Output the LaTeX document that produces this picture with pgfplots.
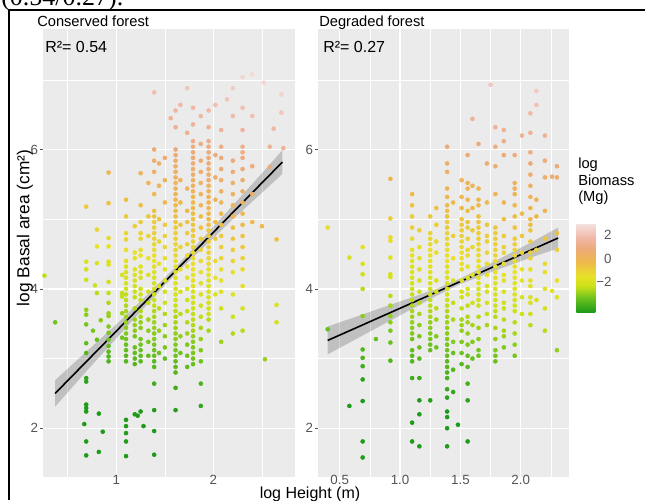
\documentclass[border=0pt]{standalone}
\usepackage{fontspec}
\setmainfont{Liberation Sans}
\newfontfamily\seriffont{Liberation Serif}
\usepackage{pgfplots}
\usepackage{pgfplotstable}
\pgfplotsset{compat=1.18}

\definecolor{panelgrey}{HTML}{EBEBEB}
\definecolor{axisgrey}{HTML}{555555}

% log height, log basal area, log biomass
\pgfplotstableread[row sep=\\]{
x y c\\
0.26 4.19 -2.4\\ 0.37 3.52 -3.3\\ 0.67 2.06 -5.2\\
0.69 5.18 -0.8\\ 0.69 4.39 -1.9\\ 0.69 4.28 -2.1\\ 0.69 4.13 -2.3\\ 0.69 3.70 -2.9\\ 0.69 3.63 -3.0\\
0.69 3.49 -3.2\\ 0.69 3.22 -3.5\\ 0.69 3.08 -3.7\\ 0.69 2.72 -4.2\\ 0.69 2.67 -4.3\\ 0.69 2.34 -4.8\\
0.69 2.29 -4.8\\ 0.69 2.24 -4.9\\ 0.69 1.81 -5.5\\ 0.69 1.61 -5.8\\
0.80 4.85 -1.2\\ 0.80 4.61 -1.5\\ 0.80 4.37 -1.9\\ 0.78 4.05 -2.3\\ 0.80 3.94 -2.5\\ 0.84 3.55 -3.0\\
0.76 3.40 -3.2\\ 0.80 3.27 -3.4\\ 0.82 2.21 -4.9\\ 0.86 1.95 -5.3\\ 0.82 1.66 -5.7\\
0.92 5.67 0.0\\ 0.92 5.23 -0.6\\ 0.92 4.73 -1.3\\ 0.92 4.61 -1.5\\ 0.92 4.39 -1.8\\ 0.92 4.35 -1.9\\
0.92 4.10 -2.2\\ 0.92 3.94 -2.4\\ 0.92 3.80 -2.6\\ 0.92 3.65 -2.8\\ 0.92 3.61 -2.9\\ 0.92 3.46 -3.1\\
0.92 3.37 -3.2\\ 0.92 3.27 -3.4\\ 0.92 3.18 -3.5\\ 0.92 3.10 -3.6\\ 0.92 3.03 -3.7\\ 0.92 2.96 -3.8\\
1.06 4.20 -2.0\\ 1.06 3.94 -2.4\\ 1.06 3.89 -2.4\\ 1.06 3.65 -2.8\\ 1.06 3.30 -3.3\\
1.10 5.28 -0.5\\ 1.10 5.04 -0.8\\ 1.10 4.80 -1.1\\ 1.10 4.71 -1.2\\ 1.10 4.56 -1.5\\ 1.10 4.40 -1.7\\
1.10 4.32 -1.8\\ 1.10 4.24 -1.9\\ 1.10 4.16 -2.0\\ 1.10 4.08 -2.1\\ 1.10 4.00 -2.2\\ 1.10 3.92 -2.4\\
1.10 3.84 -2.5\\ 1.10 3.76 -2.6\\ 1.10 3.68 -2.7\\ 1.10 3.60 -2.8\\ 1.10 3.52 -2.9\\ 1.10 3.44 -3.0\\
1.10 3.36 -3.1\\ 1.10 3.28 -3.3\\ 1.10 3.20 -3.4\\ 1.10 3.12 -3.5\\ 1.10 3.04 -3.6\\ 1.10 2.96 -3.7\\
1.10 2.12 -4.9\\ 1.10 2.03 -5.0\\ 1.10 1.93 -5.1\\ 1.10 1.81 -5.3\\ 1.10 1.60 -5.6\\
1.19 4.90 -0.9\\ 1.19 4.52 -1.5\\ 1.19 4.44 -1.6\\ 1.19 4.28 -1.8\\ 1.19 4.20 -1.9\\ 1.19 4.12 -2.0\\
1.19 4.04 -2.1\\ 1.19 3.96 -2.3\\ 1.19 3.88 -2.4\\ 1.19 3.72 -2.6\\ 1.19 3.56 -2.8\\ 1.19 3.48 -2.9\\
1.19 3.40 -3.0\\ 1.19 3.32 -3.2\\ 1.19 3.16 -3.4\\ 1.19 3.08 -3.5\\ 1.19 3.00 -3.6\\ 1.19 2.92 -3.7\\
1.19 2.20 -4.7\\ 1.22 2.18 -4.7\\ 1.28 2.03 -4.9\\
1.25 5.66 0.1\\ 1.25 5.20 -0.5\\ 1.25 4.96 -0.8\\ 1.25 4.80 -1.1\\ 1.25 4.72 -1.2\\ 1.25 4.56 -1.4\\
1.25 4.48 -1.5\\ 1.25 4.32 -1.7\\ 1.25 4.24 -1.8\\ 1.25 4.16 -2.0\\ 1.25 4.00 -2.2\\ 1.25 3.92 -2.3\\
1.25 3.84 -2.4\\ 1.25 3.68 -2.6\\ 1.25 3.60 -2.7\\ 1.25 3.52 -2.9\\ 1.25 3.44 -3.0\\ 1.25 3.28 -3.2\\
1.25 3.20 -3.3\\ 1.25 3.12 -3.4\\ 1.25 3.04 -3.5\\ 1.25 2.96 -3.6\\ 1.25 2.24 -4.6\\
1.33 5.52 0.0\\ 1.33 5.04 -0.7\\ 1.33 4.76 -1.1\\ 1.33 4.44 -1.5\\ 1.33 4.20 -1.9\\ 1.33 3.96 -2.2\\
1.33 3.80 -2.4\\ 1.33 3.56 -2.8\\ 1.33 3.40 -3.0\\ 1.33 3.24 -3.2\\ 1.33 3.04 -3.5\\
1.39 6.82 1.9\\ 1.39 6.00 0.7\\ 1.39 5.84 0.5\\ 1.39 5.68 0.3\\ 1.39 5.36 -0.2\\ 1.39 5.12 -0.5\\
1.39 5.04 -0.6\\ 1.39 4.96 -0.8\\ 1.39 4.88 -0.9\\ 1.39 4.80 -1.0\\ 1.39 4.72 -1.1\\ 1.39 4.64 -1.2\\
1.39 4.56 -1.3\\ 1.39 4.48 -1.4\\ 1.39 4.40 -1.5\\ 1.39 4.32 -1.7\\ 1.39 4.24 -1.8\\ 1.39 4.16 -1.9\\
1.39 4.08 -2.0\\ 1.39 4.00 -2.1\\ 1.39 3.92 -2.2\\ 1.39 3.84 -2.3\\ 1.39 3.76 -2.4\\ 1.39 3.68 -2.6\\
1.39 3.60 -2.7\\ 1.39 3.52 -2.8\\ 1.39 3.44 -2.9\\ 1.39 3.36 -3.0\\ 1.39 3.28 -3.1\\ 1.39 3.20 -3.2\\
1.39 3.12 -3.3\\ 1.39 3.04 -3.4\\ 1.39 2.96 -3.6\\ 1.39 2.88 -3.7\\ 1.39 2.64 -4.0\\ 1.39 2.26 -4.5\\
1.39 1.96 -5.0\\ 1.39 1.62 -5.4\\
1.44 5.80 0.4\\ 1.44 5.48 0.0\\ 1.44 5.00 -0.7\\ 1.44 4.68 -1.1\\ 1.44 4.36 -1.6\\ 1.44 4.04 -2.0\\
1.44 3.72 -2.5\\ 1.44 3.40 -2.9\\ 1.44 3.08 -3.4\\
1.50 5.88 0.6\\ 1.50 5.56 0.1\\ 1.50 5.24 -0.3\\ 1.50 4.92 -0.8\\ 1.50 4.76 -1.0\\ 1.50 4.60 -1.2\\
1.50 4.44 -1.4\\ 1.50 4.28 -1.7\\ 1.50 4.12 -1.9\\ 1.50 3.96 -2.1\\ 1.50 3.80 -2.3\\ 1.50 3.64 -2.6\\
1.50 3.48 -2.8\\ 1.50 3.32 -3.0\\ 1.50 3.16 -3.2\\ 1.50 3.00 -3.5\\
1.56 6.45 1.4\\
1.61 6.56 1.6\\ 1.61 6.32 1.3\\ 1.61 6.00 0.8\\ 1.61 5.92 0.7\\ 1.61 5.84 0.6\\ 1.61 5.76 0.5\\
1.61 5.68 0.4\\ 1.61 5.60 0.2\\ 1.61 5.52 0.1\\ 1.61 5.44 0.0\\ 1.61 5.36 -0.1\\ 1.61 5.28 -0.2\\
1.61 5.20 -0.3\\ 1.61 5.12 -0.4\\ 1.61 5.04 -0.5\\ 1.61 4.96 -0.7\\ 1.61 4.88 -0.8\\ 1.61 4.80 -0.9\\
1.61 4.72 -1.0\\ 1.61 4.64 -1.1\\ 1.61 4.56 -1.2\\ 1.61 4.48 -1.3\\ 1.61 4.40 -1.4\\ 1.61 4.32 -1.6\\
1.61 4.24 -1.7\\ 1.61 4.16 -1.8\\ 1.61 4.08 -1.9\\ 1.61 4.00 -2.0\\ 1.61 3.92 -2.1\\ 1.61 3.84 -2.2\\
1.61 3.76 -2.3\\ 1.61 3.68 -2.5\\ 1.61 3.60 -2.6\\ 1.61 3.52 -2.7\\ 1.61 3.44 -2.8\\ 1.61 3.36 -2.9\\
1.61 3.28 -3.0\\ 1.61 3.20 -3.1\\ 1.61 3.12 -3.2\\ 1.61 3.04 -3.3\\ 1.61 2.96 -3.5\\ 1.61 2.88 -3.6\\
1.61 2.80 -3.7\\ 1.61 2.58 -4.0\\ 1.61 2.26 -4.4\\
1.66 6.64 1.7\\ 1.66 5.56 0.2\\ 1.66 5.24 -0.2\\ 1.66 4.92 -0.7\\ 1.66 4.60 -1.1\\ 1.66 4.28 -1.6\\
1.66 3.96 -2.0\\ 1.66 3.64 -2.5\\ 1.66 3.32 -2.9\\ 1.66 3.08 -3.3\\
1.73 6.88 2.1\\ 1.73 6.24 1.2\\ 1.73 5.44 0.1\\ 1.73 5.12 -0.4\\ 1.73 4.96 -0.6\\ 1.73 4.80 -0.8\\
1.73 4.64 -1.0\\ 1.73 4.48 -1.3\\ 1.73 4.32 -1.5\\ 1.73 4.16 -1.7\\ 1.73 4.00 -1.9\\ 1.73 3.84 -2.2\\
1.73 3.68 -2.4\\ 1.73 3.52 -2.6\\ 1.73 3.36 -2.8\\ 1.73 3.20 -3.1\\ 1.73 3.04 -3.3\\ 1.73 2.88 -3.5\\
1.79 6.60 1.7\\ 1.79 6.36 1.4\\ 1.79 6.12 1.1\\ 1.79 6.04 1.0\\ 1.79 5.96 0.8\\ 1.79 5.88 0.7\\
1.79 5.80 0.6\\ 1.79 5.72 0.5\\ 1.79 5.64 0.4\\ 1.79 5.56 0.3\\ 1.79 5.48 0.2\\ 1.79 5.40 0.1\\
1.79 5.32 -0.1\\ 1.79 5.24 -0.2\\ 1.79 5.16 -0.3\\ 1.79 5.08 -0.4\\ 1.79 5.00 -0.5\\ 1.79 4.92 -0.6\\
1.79 4.84 -0.7\\ 1.79 4.76 -0.8\\ 1.79 4.68 -1.0\\ 1.79 4.60 -1.1\\ 1.79 4.52 -1.2\\ 1.79 4.44 -1.3\\
1.79 4.36 -1.4\\ 1.79 4.28 -1.5\\ 1.79 4.20 -1.6\\ 1.79 4.12 -1.7\\ 1.79 4.04 -1.8\\ 1.79 3.96 -2.0\\
1.79 3.88 -2.1\\ 1.79 3.80 -2.2\\ 1.79 3.72 -2.3\\ 1.79 3.64 -2.4\\ 1.79 3.56 -2.5\\ 1.79 3.48 -2.6\\
1.79 3.40 -2.7\\ 1.79 3.32 -2.9\\ 1.79 3.24 -3.0\\ 1.79 3.16 -3.1\\ 1.79 3.08 -3.2\\ 1.79 3.00 -3.3\\
1.79 2.92 -3.4\\
1.87 6.48 1.6\\ 1.87 6.08 1.0\\ 1.87 5.84 0.7\\ 1.87 5.68 0.5\\ 1.87 5.52 0.3\\ 1.87 5.36 0.0\\
1.87 5.20 -0.2\\ 1.87 5.04 -0.4\\ 1.87 4.88 -0.6\\ 1.87 4.72 -0.9\\ 1.87 4.56 -1.1\\ 1.87 4.40 -1.3\\
1.87 4.24 -1.5\\ 1.87 4.08 -1.8\\ 1.87 3.92 -2.0\\ 1.87 3.76 -2.2\\ 1.87 3.60 -2.4\\ 1.87 3.44 -2.7\\
1.87 3.28 -2.9\\ 1.87 3.12 -3.1\\ 1.87 2.96 -3.3\\ 1.87 2.64 -3.8\\ 1.87 2.32 -4.2\\
1.95 6.56 1.8\\ 1.95 6.32 1.4\\ 1.95 6.12 1.1\\ 1.95 6.04 1.0\\ 1.95 5.96 0.9\\ 1.95 5.88 0.8\\
1.95 5.80 0.7\\ 1.95 5.72 0.6\\ 1.95 5.64 0.5\\ 1.95 5.56 0.4\\ 1.95 5.48 0.2\\ 1.95 5.40 0.1\\
1.95 5.32 0.0\\ 1.95 5.24 -0.1\\ 1.95 5.16 -0.2\\ 1.95 5.08 -0.3\\ 1.95 5.00 -0.4\\ 1.95 4.92 -0.5\\
1.95 4.84 -0.7\\ 1.95 4.76 -0.8\\ 1.95 4.68 -0.9\\ 1.95 4.60 -1.0\\ 1.95 4.52 -1.1\\ 1.95 4.44 -1.2\\
1.95 4.36 -1.3\\ 1.95 4.28 -1.4\\ 1.95 4.20 -1.6\\ 1.95 4.12 -1.7\\ 1.95 4.04 -1.8\\ 1.95 3.96 -1.9\\
1.95 3.88 -2.0\\ 1.95 3.80 -2.1\\ 1.95 3.72 -2.2\\ 1.95 3.64 -2.3\\ 1.95 3.56 -2.5\\ 1.95 3.40 -2.7\\
2.02 6.64 1.9\\ 2.02 5.92 0.9\\ 2.02 5.60 0.5\\ 2.02 5.28 0.0\\ 2.02 4.96 -0.5\\ 2.02 4.72 -0.8\\
2.02 4.40 -1.2\\ 2.02 4.16 -1.6\\ 2.02 3.92 -1.9\\
2.08 6.28 1.4\\ 2.08 6.04 1.1\\ 2.08 5.88 0.9\\ 2.08 5.72 0.7\\ 2.08 5.56 0.4\\ 2.08 5.40 0.2\\
2.08 5.24 0.0\\ 2.08 5.08 -0.3\\ 2.08 4.92 -0.5\\ 2.08 4.76 -0.7\\ 2.08 4.60 -0.9\\ 2.08 4.44 -1.1\\
2.08 4.28 -1.4\\ 2.08 4.12 -1.6\\ 2.08 3.96 -1.8\\ 2.08 3.72 -2.2\\ 2.08 3.24 -2.8\\ 2.14 6.72 2.1\\
2.20 6.88 2.3\\ 2.20 6.48 1.8\\ 2.20 5.84 0.9\\ 2.20 5.68 0.7\\ 2.20 5.52 0.4\\ 2.20 5.36 0.2\\
2.20 5.20 0.0\\ 2.20 5.04 -0.2\\ 2.20 4.88 -0.5\\ 2.20 4.72 -0.7\\ 2.20 4.56 -0.9\\ 2.20 4.40 -1.1\\
2.20 4.24 -1.4\\ 2.20 3.92 -1.8\\ 2.20 3.60 -2.3\\ 2.20 3.36 -2.6\\
2.30 7.04 2.6\\ 2.30 6.60 2.0\\ 2.30 6.28 1.5\\ 2.30 6.04 1.2\\ 2.30 5.96 1.1\\ 2.30 5.88 1.0\\
2.30 5.72 0.8\\ 2.30 5.56 0.5\\ 2.30 5.40 0.3\\ 2.30 5.24 0.1\\ 2.30 5.08 -0.1\\ 2.30 4.92 -0.4\\
2.30 4.76 -0.6\\ 2.30 4.60 -0.8\\ 2.30 4.44 -1.0\\ 2.30 4.28 -1.3\\ 2.30 4.04 -1.6\\ 2.30 3.72 -2.0\\
2.30 3.40 -2.5\\
2.40 7.08 2.7\\ 2.40 6.48 1.9\\ 2.40 5.76 0.9\\ 2.40 5.36 0.3\\ 2.40 4.96 -0.3\\
2.50 4.90 -0.3\\ 2.53 2.99 -2.9\\ 2.52 6.96 2.6\\ 2.58 6.04 1.4\\ 2.58 5.75 0.9\\ 2.62 6.30 1.7\\
2.65 4.71 -0.5\\ 2.65 3.77 -1.8\\ 2.65 3.52 -2.1\\ 2.70 6.53 2.1\\ 2.70 6.79 2.5\\ 2.72 6.02 1.4\\
}\conserved

\pgfplotstableread[row sep=\\]{
x y c\\
0.40 4.88 -1.4\\ 0.40 3.42 -3.4\\ 0.58 4.45 -1.9\\ 0.58 2.32 -4.9\\ 0.80 3.28 -3.4\\
0.69 4.60 -1.6\\ 0.69 4.36 -2.0\\ 0.69 4.21 -2.2\\ 0.69 4.00 -2.5\\ 0.69 3.61 -3.0\\ 0.69 3.13 -3.7\\
0.69 3.01 -3.8\\ 0.69 2.89 -4.0\\ 0.69 2.70 -4.3\\ 0.69 2.39 -4.7\\ 0.69 1.81 -5.5\\ 0.69 1.58 -5.8\\
0.92 5.58 -0.1\\ 0.92 5.01 -0.9\\ 0.92 4.74 -1.3\\ 0.92 4.69 -1.4\\ 0.92 4.45 -1.7\\ 0.92 4.21 -2.0\\
0.92 4.17 -2.1\\ 0.92 3.90 -2.5\\ 0.92 3.76 -2.7\\ 0.92 3.61 -2.9\\ 0.92 3.52 -3.0\\ 0.92 3.40 -3.2\\
0.92 3.23 -3.4\\ 0.92 2.97 -3.8\\
1.10 5.36 -0.3\\ 1.10 5.20 -0.6\\ 1.10 5.04 -0.8\\ 1.10 4.88 -1.0\\ 1.10 4.72 -1.2\\ 1.10 4.56 -1.5\\
1.10 4.48 -1.6\\ 1.10 4.40 -1.7\\ 1.10 4.32 -1.8\\ 1.10 4.24 -1.9\\ 1.10 4.16 -2.0\\ 1.10 4.08 -2.1\\
1.10 4.00 -2.2\\ 1.10 3.92 -2.4\\ 1.10 3.84 -2.5\\ 1.10 3.76 -2.6\\ 1.10 3.68 -2.7\\ 1.10 3.60 -2.8\\
1.10 3.52 -2.9\\ 1.10 3.44 -3.0\\ 1.10 3.36 -3.1\\ 1.10 3.28 -3.3\\ 1.10 3.12 -3.5\\ 1.10 3.04 -3.6\\
1.10 2.96 -3.7\\ 1.10 2.72 -4.0\\ 1.10 2.08 -4.9\\ 1.10 1.81 -5.3\\
1.16 4.84 -1.0\\ 1.16 4.60 -1.4\\ 1.16 4.44 -1.6\\ 1.16 4.28 -1.8\\ 1.16 4.12 -2.1\\ 1.16 3.96 -2.3\\
1.16 3.80 -2.5\\ 1.16 3.64 -2.7\\ 1.16 3.48 -3.0\\ 1.16 3.32 -3.2\\ 1.16 3.16 -3.4\\ 1.16 3.00 -3.6\\
1.16 2.72 -4.0\\ 1.16 2.40 -4.5\\ 1.16 2.20 -4.7\\ 1.16 1.74 -5.4\\
1.25 5.04 -0.7\\ 1.25 4.80 -1.1\\ 1.25 4.72 -1.2\\ 1.25 4.64 -1.3\\ 1.25 4.56 -1.4\\ 1.25 4.48 -1.5\\
1.25 4.40 -1.6\\ 1.25 4.32 -1.7\\ 1.25 4.24 -1.8\\ 1.25 4.16 -2.0\\ 1.25 4.08 -2.1\\ 1.25 4.00 -2.2\\
1.25 3.92 -2.3\\ 1.25 3.84 -2.4\\ 1.25 3.76 -2.5\\ 1.25 3.68 -2.6\\ 1.25 3.60 -2.7\\ 1.25 3.52 -2.9\\
1.25 3.44 -3.0\\ 1.25 3.36 -3.1\\ 1.25 3.28 -3.2\\ 1.25 3.20 -3.3\\ 1.25 3.12 -3.4\\ 1.25 2.40 -4.4\\
1.30 5.16 -0.5\\ 1.30 4.92 -0.9\\ 1.30 4.68 -1.2\\ 1.30 4.52 -1.4\\ 1.30 4.12 -2.0\\ 1.30 3.96 -2.2\\
1.30 3.72 -2.5\\ 1.30 3.56 -2.8\\ 1.30 3.32 -3.1\\ 1.30 3.16 -3.3\\
1.39 6.04 0.8\\ 1.39 5.80 0.4\\ 1.39 5.68 0.3\\ 1.39 5.44 -0.1\\ 1.39 5.32 -0.3\\ 1.39 5.20 -0.4\\
1.39 5.12 -0.5\\ 1.39 5.04 -0.6\\ 1.39 4.96 -0.8\\ 1.39 4.88 -0.9\\ 1.39 4.80 -1.0\\ 1.39 4.72 -1.1\\
1.39 4.64 -1.2\\ 1.39 4.56 -1.3\\ 1.39 4.48 -1.4\\ 1.39 4.40 -1.5\\ 1.39 4.32 -1.7\\ 1.39 4.24 -1.8\\
1.39 4.16 -1.9\\ 1.39 4.08 -2.0\\ 1.39 4.00 -2.1\\ 1.39 3.92 -2.2\\ 1.39 3.84 -2.3\\ 1.39 3.76 -2.4\\
1.39 3.68 -2.6\\ 1.39 3.60 -2.7\\ 1.39 3.52 -2.8\\ 1.39 3.44 -2.9\\ 1.39 3.36 -3.0\\ 1.39 3.28 -3.1\\
1.39 3.20 -3.2\\ 1.39 3.12 -3.3\\ 1.39 3.04 -3.4\\ 1.39 2.96 -3.6\\ 1.39 2.88 -3.7\\ 1.39 2.80 -3.8\\
1.39 2.72 -3.9\\ 1.39 2.56 -4.1\\ 1.39 2.44 -4.3\\ 1.39 2.24 -4.6\\ 1.39 2.16 -4.7\\ 1.39 2.00 -4.9\\
1.39 1.74 -5.3\\
1.44 5.24 -0.3\\ 1.44 4.76 -1.0\\ 1.44 4.44 -1.5\\ 1.44 4.12 -1.9\\ 1.44 3.80 -2.4\\ 1.44 3.56 -2.7\\
1.44 3.24 -3.1\\ 1.44 3.08 -3.4\\ 1.44 2.84 -3.7\\ 1.44 2.52 -4.2\\ 1.48 2.05 -4.8\\
1.51 5.56 0.1\\ 1.51 5.32 -0.2\\ 1.51 5.16 -0.4\\ 1.51 5.00 -0.7\\ 1.51 4.92 -0.8\\ 1.51 4.84 -0.9\\
1.51 4.76 -1.0\\ 1.51 4.68 -1.1\\ 1.51 4.60 -1.2\\ 1.51 4.52 -1.3\\ 1.51 4.44 -1.4\\ 1.51 4.36 -1.6\\
1.51 4.28 -1.7\\ 1.51 4.12 -1.9\\ 1.51 3.96 -2.1\\ 1.51 3.88 -2.2\\ 1.51 3.72 -2.4\\ 1.51 3.56 -2.7\\
1.51 3.48 -2.8\\ 1.51 3.40 -2.9\\ 1.51 3.24 -3.1\\ 1.51 3.08 -3.3\\ 1.51 2.92 -3.6\\
1.56 5.92 0.7\\ 1.56 5.52 0.1\\ 1.56 5.44 0.0\\ 1.56 5.28 -0.2\\ 1.56 5.12 -0.5\\ 1.56 4.96 -0.7\\
1.56 4.88 -0.8\\ 1.56 4.72 -1.0\\ 1.56 4.56 -1.2\\ 1.56 4.48 -1.4\\ 1.56 4.32 -1.6\\ 1.56 4.16 -1.8\\
1.56 4.00 -2.0\\ 1.56 3.92 -2.1\\ 1.56 3.76 -2.4\\ 1.56 3.60 -2.6\\ 1.56 3.52 -2.7\\ 1.56 3.36 -2.9\\
1.56 3.20 -3.1\\ 1.56 3.04 -3.4\\ 1.56 2.88 -3.6\\ 1.56 2.64 -3.9\\ 1.56 2.40 -4.3\\ 1.56 1.81 -5.1\\
1.60 6.44 1.4\\ 1.60 5.48 0.1\\ 1.60 5.16 -0.4\\ 1.60 4.84 -0.8\\ 1.60 4.60 -1.2\\ 1.60 4.20 -1.7\\
1.60 3.80 -2.3\\ 1.60 3.48 -2.7\\ 1.60 3.24 -3.1\\ 1.60 3.00 -3.4\\
1.65 6.08 0.9\\ 1.65 5.44 0.0\\ 1.65 5.28 -0.2\\ 1.65 5.20 -0.3\\ 1.65 5.04 -0.5\\ 1.65 4.96 -0.6\\
1.65 4.88 -0.8\\ 1.65 4.80 -0.9\\ 1.65 4.72 -1.0\\ 1.65 4.64 -1.1\\ 1.65 4.56 -1.2\\ 1.65 4.48 -1.3\\
1.65 4.40 -1.4\\ 1.65 4.32 -1.5\\ 1.65 4.24 -1.6\\ 1.65 4.16 -1.8\\ 1.65 4.08 -1.9\\ 1.65 4.00 -2.0\\
1.65 3.92 -2.1\\ 1.65 3.84 -2.2\\ 1.65 3.76 -2.3\\ 1.65 3.60 -2.5\\ 1.65 3.44 -2.8\\ 1.65 3.28 -3.0\\
1.65 3.12 -3.2\\ 1.65 3.04 -3.3\\
1.72 5.80 0.6\\ 1.72 5.24 -0.2\\ 1.72 4.92 -0.7\\ 1.72 4.76 -0.9\\ 1.72 4.68 -1.0\\ 1.72 4.52 -1.2\\
1.72 4.36 -1.4\\ 1.72 4.20 -1.7\\ 1.72 4.04 -1.9\\ 1.72 3.96 -2.0\\ 1.72 3.80 -2.2\\ 1.72 3.64 -2.4\\
1.72 3.48 -2.7\\ 1.75 6.93 2.2\\
1.79 6.32 1.4\\ 1.79 6.04 1.0\\ 1.79 5.76 0.6\\ 1.79 5.36 0.0\\ 1.79 4.88 -0.7\\ 1.79 4.80 -0.8\\
1.79 4.72 -0.9\\ 1.79 4.64 -1.0\\ 1.79 4.56 -1.1\\ 1.79 4.48 -1.2\\ 1.79 4.40 -1.3\\ 1.79 4.32 -1.5\\
1.79 4.24 -1.6\\ 1.79 4.16 -1.7\\ 1.79 4.08 -1.8\\ 1.79 4.00 -1.9\\ 1.79 3.92 -2.0\\ 1.79 3.84 -2.1\\
1.79 3.76 -2.2\\ 1.79 3.68 -2.4\\ 1.79 3.60 -2.5\\ 1.79 3.44 -2.7\\ 1.79 3.28 -2.9\\ 1.79 3.12 -3.1\\
1.79 3.04 -3.2\\ 1.79 2.96 -3.4\\
1.86 6.28 1.3\\ 1.86 6.12 1.1\\ 1.86 5.92 0.8\\ 1.86 5.24 -0.1\\ 1.86 5.00 -0.5\\ 1.86 4.76 -0.8\\
1.86 4.60 -1.0\\ 1.86 4.52 -1.1\\ 1.86 4.36 -1.4\\ 1.86 4.20 -1.6\\ 1.86 4.12 -1.7\\ 1.86 3.96 -1.9\\
1.86 3.80 -2.2\\ 1.86 3.72 -2.3\\ 1.86 3.56 -2.5\\ 1.86 3.40 -2.7\\ 1.86 3.32 -2.8\\ 1.86 3.16 -3.1\\
1.95 5.92 0.9\\ 1.95 5.52 0.3\\ 1.95 5.44 0.2\\ 1.95 5.36 0.1\\ 1.95 5.20 -0.2\\ 1.95 5.04 -0.4\\
1.95 4.88 -0.6\\ 1.95 4.72 -0.8\\ 1.95 4.64 -0.9\\ 1.95 4.56 -1.1\\ 1.95 4.48 -1.2\\ 1.95 4.40 -1.3\\
1.95 4.32 -1.4\\ 1.95 4.24 -1.5\\ 1.95 4.16 -1.6\\ 1.95 4.08 -1.7\\ 1.95 4.00 -1.8\\ 1.95 3.92 -1.9\\
1.95 3.84 -2.1\\ 1.95 3.76 -2.2\\ 1.95 3.68 -2.3\\ 1.95 3.52 -2.5\\ 1.95 3.36 -2.7\\ 1.95 3.20 -3.0\\
1.95 3.04 -3.2\\
2.01 6.20 1.3\\ 2.01 5.08 -0.3\\ 2.01 4.76 -0.7\\ 2.01 4.52 -1.1\\ 2.01 4.28 -1.4\\ 2.01 4.12 -1.6\\
2.01 3.88 -2.0\\ 2.01 3.64 -2.3\\
2.08 6.52 1.8\\ 2.08 6.24 1.4\\ 2.08 5.96 1.0\\ 2.08 5.80 0.8\\ 2.08 5.64 0.5\\ 2.08 5.48 0.3\\
2.08 5.32 0.1\\ 2.08 5.16 -0.1\\ 2.08 5.00 -0.4\\ 2.08 4.92 -0.5\\ 2.08 4.84 -0.6\\ 2.08 4.68 -0.8\\
2.08 4.52 -1.0\\ 2.08 4.44 -1.1\\ 2.08 4.28 -1.4\\ 2.08 4.12 -1.6\\ 2.08 4.04 -1.7\\ 2.08 3.88 -1.9\\
2.08 3.80 -2.0\\ 2.08 3.64 -2.3\\ 2.08 3.48 -2.5\\
2.13 6.84 2.2\\ 2.13 6.64 2.0\\ 2.13 5.28 0.1\\ 2.13 5.04 -0.3\\ 2.13 4.56 -1.0\\ 2.13 3.84 -2.0\\
2.20 6.20 1.4\\ 2.20 5.84 0.9\\ 2.20 5.60 0.5\\ 2.20 5.12 -0.1\\ 2.20 4.72 -0.7\\ 2.20 4.36 -1.2\\
2.20 4.24 -1.4\\ 2.20 4.00 -1.7\\ 2.20 3.72 -2.1\\ 2.20 3.40 -2.5\\ 2.26 5.61 0.6\\ 2.26 3.97 -1.7\\
2.30 5.76 0.8\\ 2.30 5.60 0.6\\ 2.30 4.80 -0.5\\ 2.30 4.56 -0.9\\ 2.30 4.12 -1.5\\ 2.30 3.88 -1.8\\
2.30 3.12 -2.9\\
}\degraded

\pgfplotsset{
  ggpanel/.style={
    scale only axis,
    height=336pt,
    ymin=1.3, ymax=7.73,
    axis background/.style={fill=panelgrey},
    axis line style={draw=none},
    grid=both,
    major grid style={draw=white, line width=0.95pt},
    minor grid style={draw=white, line width=0.45pt},
    ytick={2,4,6}, yticklabels={2,4,6}, minor ytick={3,5,7},
    tick align=outside, xtick pos=bottom, ytick pos=left,
    major tick length=2pt, minor tick length=0pt,
    ytick style={draw=axisgrey, line width=0.5pt},
    xtick style={draw=none},
    tick label style={font=\fontsize{10}{12}\selectfont, text=axisgrey},
    xticklabel style={inner sep=0pt, yshift=3.2pt},
    yticklabel style={inner sep=1.5pt},
    colormap={biomass}{rgb255(0cm)=(30,155,25); rgb255(1.2cm)=(110,195,30);
      rgb255(2.2cm)=(205,225,25); rgb255(3cm)=(232,225,40); rgb255(4.2cm)=(238,185,75);
      rgb255(5.3cm)=(236,170,120); rgb255(6.3cm)=(240,185,170); rgb255(7.5cm)=(245,228,228)},
    point meta min=-4.5, point meta max=3,
  },
  ggpoints/.style={scatter, only marks, mark=*, mark size=1.5pt, point meta=explicit,
    scatter/use mapped color={draw=mapped color, fill=mapped color}},
  ggband/.style={fill=black, fill opacity=0.18, draw=none},
  ggfit/.style={black, line width=1.2pt},
}

\begin{document}
\begin{tikzpicture}
\useasboundingbox (0,0) rectangle (483.75pt,375pt);

\begin{axis}[ggpanel,
  at={(32.25pt,17.25pt)}, anchor=south west,
  width=189pt,
  xmin=0.245, xmax=2.84,
  xtick={1,2}, xticklabels={1,2}, minor xtick={0.5,1.5,2.5},
]
\addplot[ggpoints] table[x=x, y=y, meta=c] {\conserved};
\addplot[ggband] coordinates {(0.37,2.69) (0.7,3.11) (1.0,3.49) (1.3,3.89) (1.6,4.30) (1.9,4.74)
  (2.2,5.20) (2.5,5.66) (2.71,5.99) (2.71,5.65) (2.5,5.38) (2.2,5.00) (1.9,4.60) (1.6,4.20)
  (1.3,3.75) (1.0,3.29) (0.7,2.83) (0.37,2.31)} -- cycle;
\addplot[ggfit] coordinates {(0.37,2.50) (2.71,5.82)};
\end{axis}

\begin{axis}[ggpanel,
  at={(238.5pt,17.25pt)}, anchor=south west,
  width=188.25pt,
  xmin=0.32, xmax=2.40,
  xtick={0.5,1,1.5,2}, xticklabels={0.5,1.0,1.5,2.0}, minor xtick={0.75,1.25,1.75,2.25},
  colorbar,
  colorbar style={
    at={(parent axis.south east)}, anchor=south west,
    xshift=-3pt, yshift=123.75pt,
    scale only axis, width=14.25pt, height=66.75pt,
    axis line style={draw=none},
    ytick={-2,0,2}, yticklabels={−2,0,2},
    major tick length=0pt,
    yticklabel style={font=\fontsize{10}{12}\selectfont, text=axisgrey,
      text width=12pt, align=right, inner sep=0pt},
  },
]
\addplot[ggpoints] table[x=x, y=y, meta=c] {\degraded};
\addplot[ggband] coordinates {(0.40,3.46) (0.7,3.64) (1.0,3.82) (1.3,4.00) (1.5,4.15) (1.8,4.41)
  (2.1,4.68) (2.31,4.88) (2.31,4.58) (2.1,4.46) (1.8,4.27) (1.5,4.07) (1.3,3.90) (1.0,3.62)
  (0.7,3.34) (0.40,3.06)} -- cycle;
\addplot[ggfit] coordinates {(0.40,3.26) (2.31,4.73)};
\end{axis}

\begin{scope}[x=0.75pt, y=0.75pt]
\draw[line width=1.4pt] (9,0) -- (9,490) -- (645,490);
\node[anchor=base west, inner sep=0pt, font=\seriffont\fontsize{19.5}{22}\selectfont] at (1,494) {(0.54/0.27).};
\node[anchor=base west, inner sep=0pt, font=\fontsize{11}{13}\selectfont] at (37,473) {Conserved forest};
\node[anchor=base west, inner sep=0pt, font=\fontsize{11}{13}\selectfont] at (319,473) {Degraded forest};
\node[anchor=base west, inner sep=0pt, font=\fontsize{12}{14}\selectfont] at (45,447) {R²= 0.54};
\node[anchor=base west, inner sep=0pt, font=\fontsize{12}{14}\selectfont] at (323,447) {R²= 0.27};
\node[rotate=90, inner sep=0pt, font=\fontsize{13}{15}\selectfont] at (25,272) {log Basal area (cm²)};
\node[anchor=base, inner sep=0pt, font=\fontsize{12}{14}\selectfont] at (310,1.5) {log Height (m)};
\node[anchor=base west, inner sep=0pt, font=\fontsize{11}{13}\selectfont] at (578,331) {log};
\node[anchor=base west, inner sep=0pt, font=\fontsize{11}{13}\selectfont] at (578,314) {Biomass};
\node[anchor=base west, inner sep=0pt, font=\fontsize{11}{13}\selectfont] at (578,298) {(Mg)};
\end{scope}
\end{tikzpicture}
\end{document}
